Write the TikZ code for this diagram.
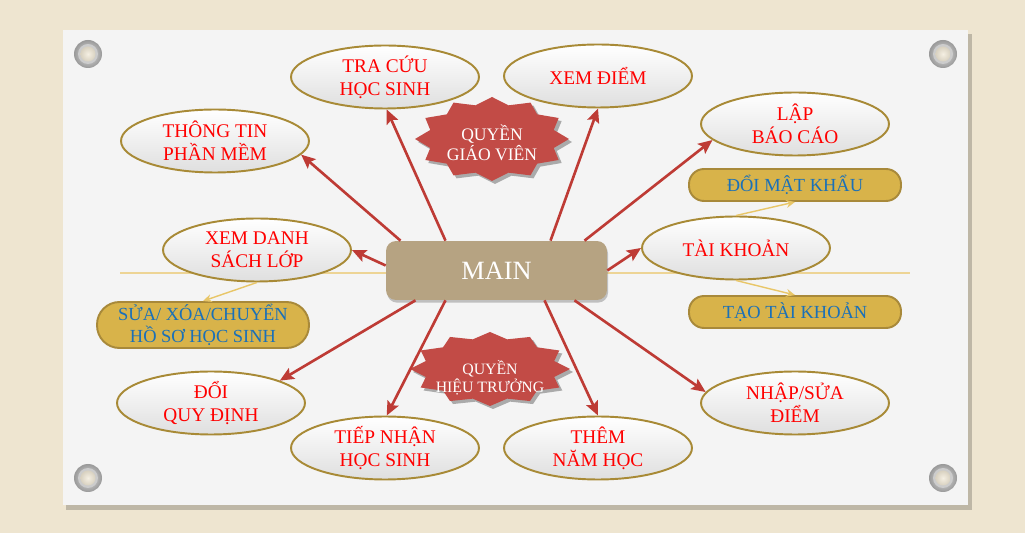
\documentclass[tikz,border=0pt]{standalone}
\usepackage{fontspec}
\setmainfont{Liberation Serif}
\usepackage{xcolor}
\usetikzlibrary{arrows.meta,shapes.geometric,shadows,calc}

\definecolor{paper}{HTML}{EEE5D0}
\definecolor{card}{HTML}{F4F4F4}
\definecolor{ovalgold}{HTML}{A88A36}
\definecolor{boxfill}{HTML}{D8B34A}
\definecolor{boxedge}{HTML}{A8893A}
\definecolor{boxtext}{HTML}{1A70B8}
\definecolor{arrowred}{HTML}{BE3B35}
\definecolor{thingold}{HTML}{E8C668}
\definecolor{mainfill}{HTML}{B6A382}
\definecolor{starred}{HTML}{C24B46}
\definecolor{rulegold}{HTML}{EDD495}

\begin{document}
\begin{tikzpicture}[x=0.02cm, y=-0.02cm,
    oval/.style={ellipse, draw=ovalgold, line width=1.1pt, top color=white, bottom color=gray!25,
      minimum width=3.76cm, minimum height=1.26cm, inner sep=0pt, align=center, text=red,
      font=\fontsize{11}{13}\selectfont},
    goldbox/.style={rectangle, rounded corners=0.3cm, draw=boxedge, line width=1.1pt, fill=boxfill,
      minimum width=4.24cm, minimum height=0.64cm, inner sep=0pt, align=center, text=boxtext,
      font=\fontsize{10.5}{12.5}\selectfont},
    redarrow/.style={arrowred, line width=1.5pt, -{Stealth[length=8pt, width=7pt, inset=1.5pt]}},
    thinarrow/.style={thingold, line width=0.8pt, -{Stealth[length=5pt, width=4.5pt]}},
    startext/.style={text=white, align=center}]

  \useasboundingbox (0,0) rectangle (1025,533);
  \fill[paper] (0,0) rectangle (1025,533);
  % card and screws
  \fill[black, opacity=0.2] (66,34) rectangle (972,510);
  \fill[card] (63,30) rectangle (968,505);
  \foreach \sx/\sy in {88/54, 943/54, 88/478, 943/478} {
    \shade[inner color=gray!20, outer color=gray!80] (\sx,\sy) circle (14);
    \fill[gray!40] (\sx,\sy) circle (10);
    \shade[inner color=paper!60, outer color=paper!80!gray] (\sx,\sy) circle (7.5);
  }
  \draw[rulegold, line width=1.1pt] (120,273) -- (910,273);

  % the two stars
  \foreach \cx/\cy/\rx/\ry in {492/139/77/42, 490/369/80/37} {
    \fill[black, opacity=0.3] plot[samples=25, domain=0:360, variable=\t]
      ({\cx+3+(\rx-0.17*\rx*mod(round(\t/15),2))*cos(\t)}, {\cy+3+(\ry-0.17*\ry*mod(round(\t/15),2))*sin(\t)}) -- cycle;
    \fill[starred] plot[samples=25, domain=0:360, variable=\t]
      ({\cx+(\rx-0.17*\rx*mod(round(\t/15),2))*cos(\t)}, {\cy+(\ry-0.17*\ry*mod(round(\t/15),2))*sin(\t)}) -- cycle;
  }
  \node[startext, font=\fontsize{10}{11.5}\selectfont] (giaovien) at (492,143) {QUYỀN\\GIÁO VIÊN};
  \node[startext, font=\fontsize{9}{10}\selectfont] (hieutruong) at (490,378) {QUYỀN\\HIỆU TRƯỞNG};

  \node[rectangle, rounded corners=0.2cm, fill=mainfill, minimum width=4.42cm, minimum height=1.18cm,
    drop shadow={shadow xshift=0.6pt, shadow yshift=-1.5pt, opacity=0.45}, text=white,
    font=\fontsize{15}{16}\selectfont] (main) at (496.5,270.5) {MAIN};

  \node[oval] (tracuu) at (385,77) {TRA CỨU\\HỌC SINH};
  \node[oval] (xemdiem) at (598,76) {XEM ĐIỂM};
  \node[oval] (thongtin) at (215,141) {THÔNG TIN\\PHẦN MỀM};
  \node[oval] (lapbc) at (795,124) {LẬP\\BÁO CÁO};
  \node[oval] (xemds) at (257,250) {XEM DANH\\SÁCH LỚP};
  \node[oval] (taikhoan) at (736,248) {TÀI KHOẢN};
  \node[oval] (doiqd) at (211,403) {ĐỔI\\QUY ĐỊNH};
  \node[oval] (nhapsua) at (795,403) {NHẬP/SỬA\\ĐIỂM};
  \node[oval] (tiepnhan) at (385,448) {TIẾP NHẬN\\HỌC SINH};
  \node[oval] (themnh) at (598,448) {THÊM\\NĂM HỌC};

  \node[goldbox] (doimk) at (795,185) {ĐỔI MẬT KHẨU};
  \node[goldbox] (taotk) at (795,312) {TẠO TÀI KHOẢN};
  \node[goldbox, minimum height=0.92cm, rounded corners=0.45cm] (suahs) at (203,325) {SỬA/ XÓA/CHUYỂN\\HỒ SƠ HỌC SINH};

  \draw[thinarrow] (taikhoan.north) -- (doimk.south);
  \draw[thinarrow] (taikhoan.south) -- (taotk.north);
  \draw[thinarrow] (xemds.south) -- (suahs.north);

  \foreach \dx/\target/\ang in {-96/thongtin/-9, -51/tracuu/-87, 54/xemdiem/-90, 88/lapbc/-169}
    \draw[redarrow] ($(main.north)+(\dx,0)$) -- (\target.\ang);
  \foreach \dx/\target/\ang in {-81/doiqd/18, -51/tiepnhan/87, 48/themnh/90, 78/nhapsua/173}
    \draw[redarrow] ($(main.south)+(\dx,0)$) -- (\target.\ang);
  \draw[redarrow] ($(main.west)+(0,-5)$) -- (xemds.east);
  \draw[redarrow] (main.east) -- (taikhoan.west);
\end{tikzpicture}
\end{document}
